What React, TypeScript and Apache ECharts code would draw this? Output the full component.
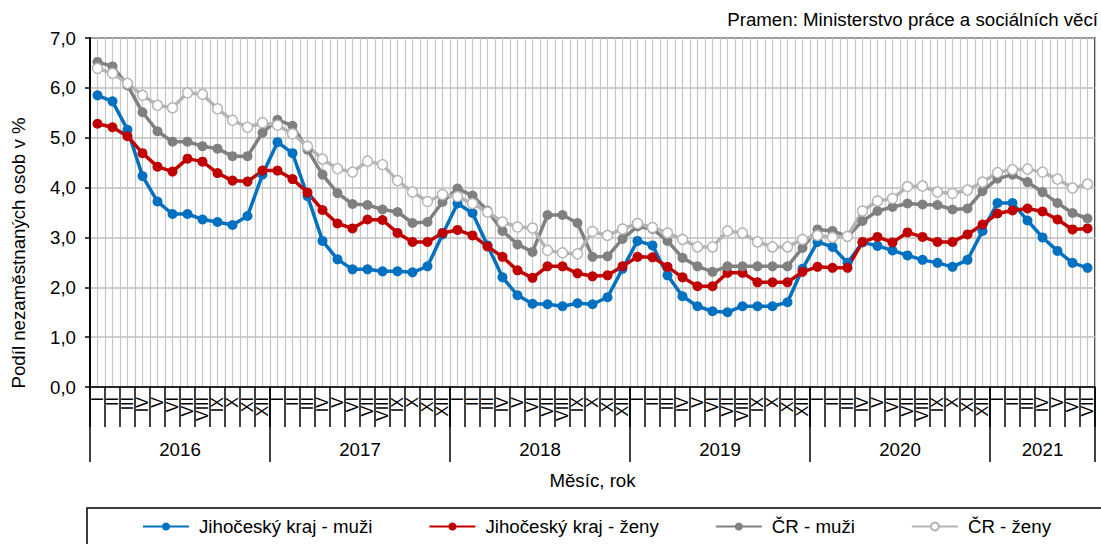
import React, { useEffect, useRef } from 'react';
import * as echarts from 'echarts';

const FONT = '"Liberation Sans", Arial, sans-serif';

const monthLabels = ['I', 'II', 'III', 'IV', 'V', 'VI', 'VII', 'VIII', 'IX', 'X', 'XI', 'XII'];
const years = [2016, 2017, 2018, 2019, 2020, 2021];
const monthsPerYear = [12, 12, 12, 12, 12, 7];
const yTicks = [0, 1, 2, 3, 4, 5, 6, 7];

const jcMuzi = [
  5.85, 5.73, 5.16, 4.23, 3.72, 3.47, 3.47, 3.36, 3.31, 3.25, 3.43, 4.26,
  4.91, 4.69, 3.83, 2.93, 2.56, 2.36, 2.36, 2.32, 2.32, 2.30, 2.42, 3.06,
  3.68, 3.49, 2.84, 2.20, 1.84, 1.67, 1.66, 1.62, 1.68, 1.66, 1.80, 2.37,
  2.93, 2.84, 2.24, 1.82, 1.62, 1.52, 1.50, 1.62, 1.62, 1.62, 1.70, 2.37,
  2.91, 2.81, 2.49, 2.90, 2.83, 2.74, 2.64, 2.55, 2.49, 2.41, 2.55, 3.13,
  3.69, 3.69, 3.34, 3.00, 2.73, 2.49, 2.39,
];
const jcZeny = [
  5.28, 5.21, 5.03, 4.69, 4.42, 4.32, 4.58, 4.52, 4.29, 4.14, 4.12, 4.34,
  4.34, 4.17, 3.90, 3.55, 3.28, 3.18, 3.36, 3.35, 3.09, 2.91, 2.91, 3.09,
  3.15, 3.04, 2.82, 2.61, 2.34, 2.19, 2.42, 2.42, 2.28, 2.22, 2.24, 2.42,
  2.61, 2.60, 2.41, 2.20, 2.02, 2.02, 2.29, 2.29, 2.10, 2.10, 2.10, 2.31,
  2.41, 2.39, 2.39, 2.91, 3.01, 2.90, 3.10, 3.01, 2.91, 2.91, 3.06, 3.26,
  3.48, 3.54, 3.58, 3.52, 3.36, 3.16, 3.18,
];
const crMuzi = [
  6.52, 6.43, 6.05, 5.51, 5.13, 4.92, 4.92, 4.83, 4.78, 4.63, 4.63, 5.10,
  5.36, 5.24, 4.76, 4.26, 3.89, 3.67, 3.65, 3.56, 3.51, 3.29, 3.31, 3.71,
  3.98, 3.84, 3.54, 3.13, 2.86, 2.71, 3.45, 3.45, 3.29, 2.61, 2.62, 2.97,
  3.22, 3.17, 2.93, 2.59, 2.42, 2.31, 2.42, 2.42, 2.42, 2.42, 2.42, 2.79,
  3.16, 3.13, 3.02, 3.33, 3.53, 3.61, 3.68, 3.66, 3.65, 3.56, 3.58, 3.93,
  4.18, 4.26, 4.11, 3.91, 3.69, 3.49, 3.38,
];
const crZeny = [
  6.39, 6.29, 6.09, 5.85, 5.65, 5.60, 5.90, 5.87, 5.58, 5.35, 5.21, 5.30,
  5.25, 5.08, 4.83, 4.57, 4.38, 4.31, 4.53, 4.46, 4.14, 3.91, 3.72, 3.86,
  3.82, 3.68, 3.51, 3.31, 3.21, 3.19, 2.74, 2.69, 2.67, 3.12, 3.04, 3.17,
  3.28, 3.20, 3.09, 2.96, 2.81, 2.81, 3.13, 3.09, 2.91, 2.81, 2.81, 2.96,
  3.04, 3.00, 3.02, 3.53, 3.73, 3.78, 4.02, 4.03, 3.91, 3.88, 3.95, 4.11,
  4.30, 4.36, 4.37, 4.31, 4.17, 3.99, 4.07,
];

const seriesNames = ['Jihočeský kraj - muži', 'Jihočeský kraj - ženy', 'ČR - muži', 'ČR - ženy'];
const sourceText = 'Pramen: Ministerstvo práce a sociálních věcí';
const yAxisTitle = 'Podíl nezaměstnaných osob v %';
const xAxisTitle = 'Měsíc, rok';

export default function App() {
  const ref = useRef<HTMLDivElement>(null);
  useEffect(() => {
    if (!ref.current) return;
    const chart = echarts.init(ref.current, null, { renderer: 'svg' });

    const categories: string[] = [];
    const yearBounds: number[] = [0];
    const yearCenters: number[] = [];
    let acc = 0;
    monthsPerYear.forEach((n) => {
      for (let m = 0; m < n; m++) categories.push(monthLabels[m]);
      yearCenters.push(acc + n / 2);
      acc += n;
      yearBounds.push(acc);
    });
    const total = acc;
    const yearOf = (v: number) => {
      for (let i = 0; i < years.length; i++) {
        if (v >= yearBounds[i] && v < yearBounds[i + 1]) return String(years[i]);
      }
      return '';
    };

    const txt = { fontFamily: FONT, color: '#000', fontSize: 18.7 };
    const mk = (name: string, data: number[], color: string, hollow = false) => ({
      name,
      type: 'line',
      data,
      xAxisIndex: 0,
      yAxisIndex: 0,
      symbol: 'circle',
      symbolSize: 10,
      showSymbol: true,
      lineStyle: { color, width: 3.5 },
      itemStyle: hollow
        ? { color: '#ffffff', borderColor: color, borderWidth: 1.5 }
        : { color, borderColor: color, borderWidth: 0 },
      emphasis: { disabled: true },
    });

    chart.setOption({
      animation: false,
      backgroundColor: '#ffffff',
      textStyle: { fontFamily: FONT },
      title: {
        text: sourceText,
        right: 3,
        top: 10,
        padding: 0,
        textStyle: { ...txt, fontWeight: 'normal' },
      },
      graphic: [
        {
          type: 'text',
          x: 18,
          y: 253,
          rotation: Math.PI / 2,
          style: {
            text: yAxisTitle,
            align: 'center',
            verticalAlign: 'middle',
            fill: '#000',
            fontSize: 18.7,
            fontFamily: FONT,
          },
        },
      ],
      grid: {
        left: 90,
        right: 6,
        top: 38,
        bottom: 157,
        show: true,
        borderColor: '#000',
        borderWidth: 1.5,
        backgroundColor: 'transparent',
      },
      legend: {
        data: seriesNames,
        left: 87,
        top: 508,
        width: 960,
        padding: [9, 55, 20, 55],
        itemGap: 56,
        itemWidth: 46,
        itemHeight: 10,
        borderColor: '#000',
        borderWidth: 1.5,
        textStyle: { ...txt, padding: [0, 0, 0, 5] },
      },
      xAxis: [
        {
          type: 'category',
          data: categories,
          boundaryGap: true,
          position: 'bottom',
          axisLine: { show: true, lineStyle: { color: '#000', width: 1.5 } },
          axisTick: { show: true, interval: 0, length: 40, lineStyle: { color: '#000', width: 1.5 } },
          axisLabel: { interval: 0, rotate: 90, margin: 10, fontSize: 16, color: '#000', fontFamily: FONT },
          splitLine: { show: false },
        },
        {
          type: 'value',
          min: 0,
          max: total,
          position: 'bottom',
          axisLine: { show: false },
          axisTick: { show: true, customValues: yearBounds, length: 75, lineStyle: { color: '#000', width: 1.5 } },
          axisLabel: { show: true, customValues: yearCenters, formatter: (v: number) => yearOf(v), margin: 53, ...txt },
          splitLine: { show: false },
          name: xAxisTitle,
          nameLocation: 'middle',
          nameGap: 84,
          nameTextStyle: txt,
        },
        {
          type: 'value',
          min: 0,
          max: total,
          interval: 0.5,
          position: 'bottom',
          axisLine: { show: false },
          axisTick: { show: false },
          axisLabel: { show: false },
          splitLine: { show: true, lineStyle: { color: '#c6c6c6', width: 1.2 } },
        },
      ],
      yAxis: {
        type: 'value',
        min: yTicks[0],
        max: yTicks[yTicks.length - 1],
        interval: 1,
        axisLine: { show: true, lineStyle: { color: '#000', width: 2 } },
        axisTick: { show: true, length: 5, lineStyle: { color: '#000', width: 1.5 } },
        axisLabel: { formatter: (v: number) => v.toFixed(1).replace('.', ','), margin: 14, ...txt },
        splitLine: { show: true, lineStyle: { color: '#bfbfbf', width: 1.5 } },
      },
      series: [
        mk(seriesNames[0], jcMuzi, '#0070C0'),
        mk(seriesNames[1], jcZeny, '#C00000'),
        mk(seriesNames[2], crMuzi, '#808080'),
        mk(seriesNames[3], crZeny, '#b4b4b4', true),
      ],
    });
    return () => chart.dispose();
  }, []);

  return (
    <div
      ref={ref}
      style={{ position: 'fixed', left: 0, top: 0, width: 1101, height: 544, background: '#fff' }}
    />
  );
}
